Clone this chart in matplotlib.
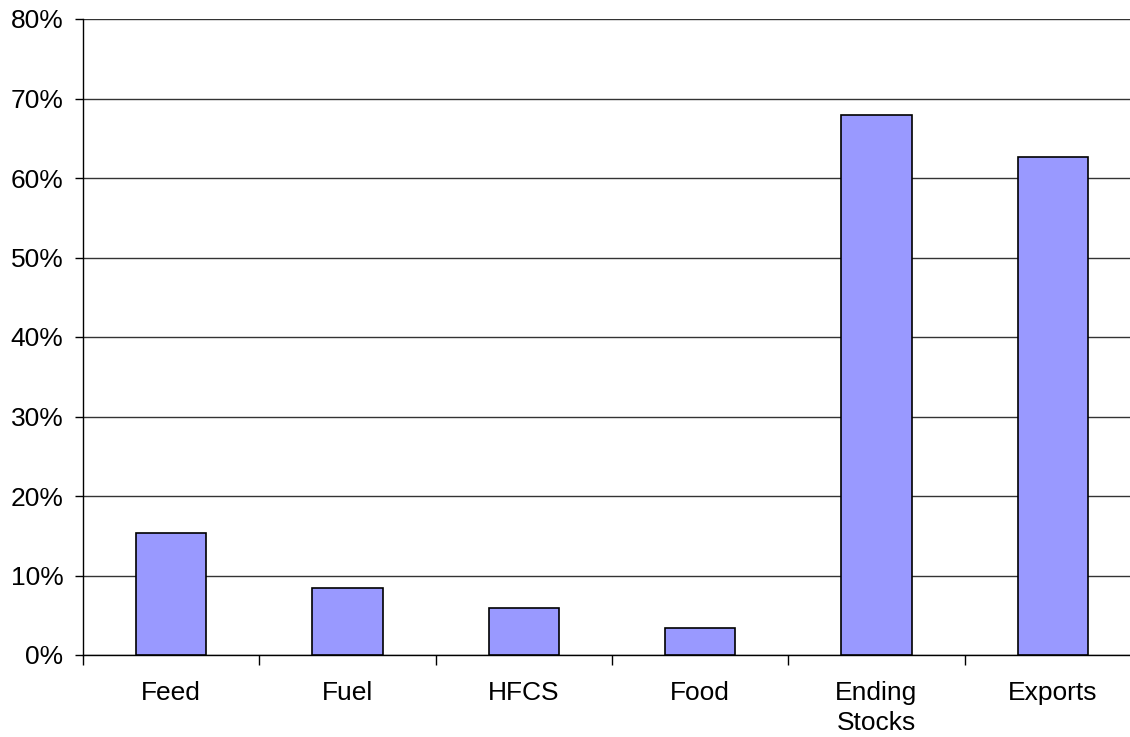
import matplotlib.pyplot as plt
from matplotlib.ticker import FuncFormatter

# ===== DATA =====
categories = ["Feed", "Fuel", "HFCS", "Food", "Ending\nStocks", "Exports"]
shares = [15.4, 8.4, 5.9, 3.4, 67.9, 62.6]

plt.rcParams['font.family'] = ['Liberation Sans', 'DejaVu Sans']

fig = plt.figure(figsize=(11.3, 7.37), dpi=100)
# right edge runs past the canvas, as in the original
ax = fig.add_axes([83/1130, 82/737, 1058/1130, 636/737])

x = range(len(categories))
ax.bar(x, shares, width=0.4, color="#9999ff", edgecolor="black", linewidth=1.2, zorder=3)

ax.set_xlim(-0.5, len(categories) - 0.5)
ax.set_ylim(0, 80)
ax.set_yticks(range(0, 81, 10))
ax.yaxis.set_major_formatter(FuncFormatter(lambda v, p: f"{v:.0f}%"))
ax.yaxis.grid(True, color="#333333", linewidth=1.0, zorder=0)

# category labels centred, ticks on the boundaries
ax.set_xticks([i - 0.5 for i in x])
ax.set_xticklabels([])
ax.set_xticks(list(x), minor=True)
ax.set_xticklabels(categories, minor=True, fontsize=19, linespacing=1.3)
ax.tick_params(axis='x', which='minor', length=0, pad=19)
ax.tick_params(axis='x', which='major', length=7, width=1, direction='out')
ax.tick_params(axis='y', length=6, width=1, labelsize=19, pad=8)

for side in ("top", "right"):
    ax.spines[side].set_visible(False)
ax.spines["left"].set_linewidth(1.0)
ax.spines["bottom"].set_linewidth(1.0)

fig.savefig("out.png", dpi=100)
